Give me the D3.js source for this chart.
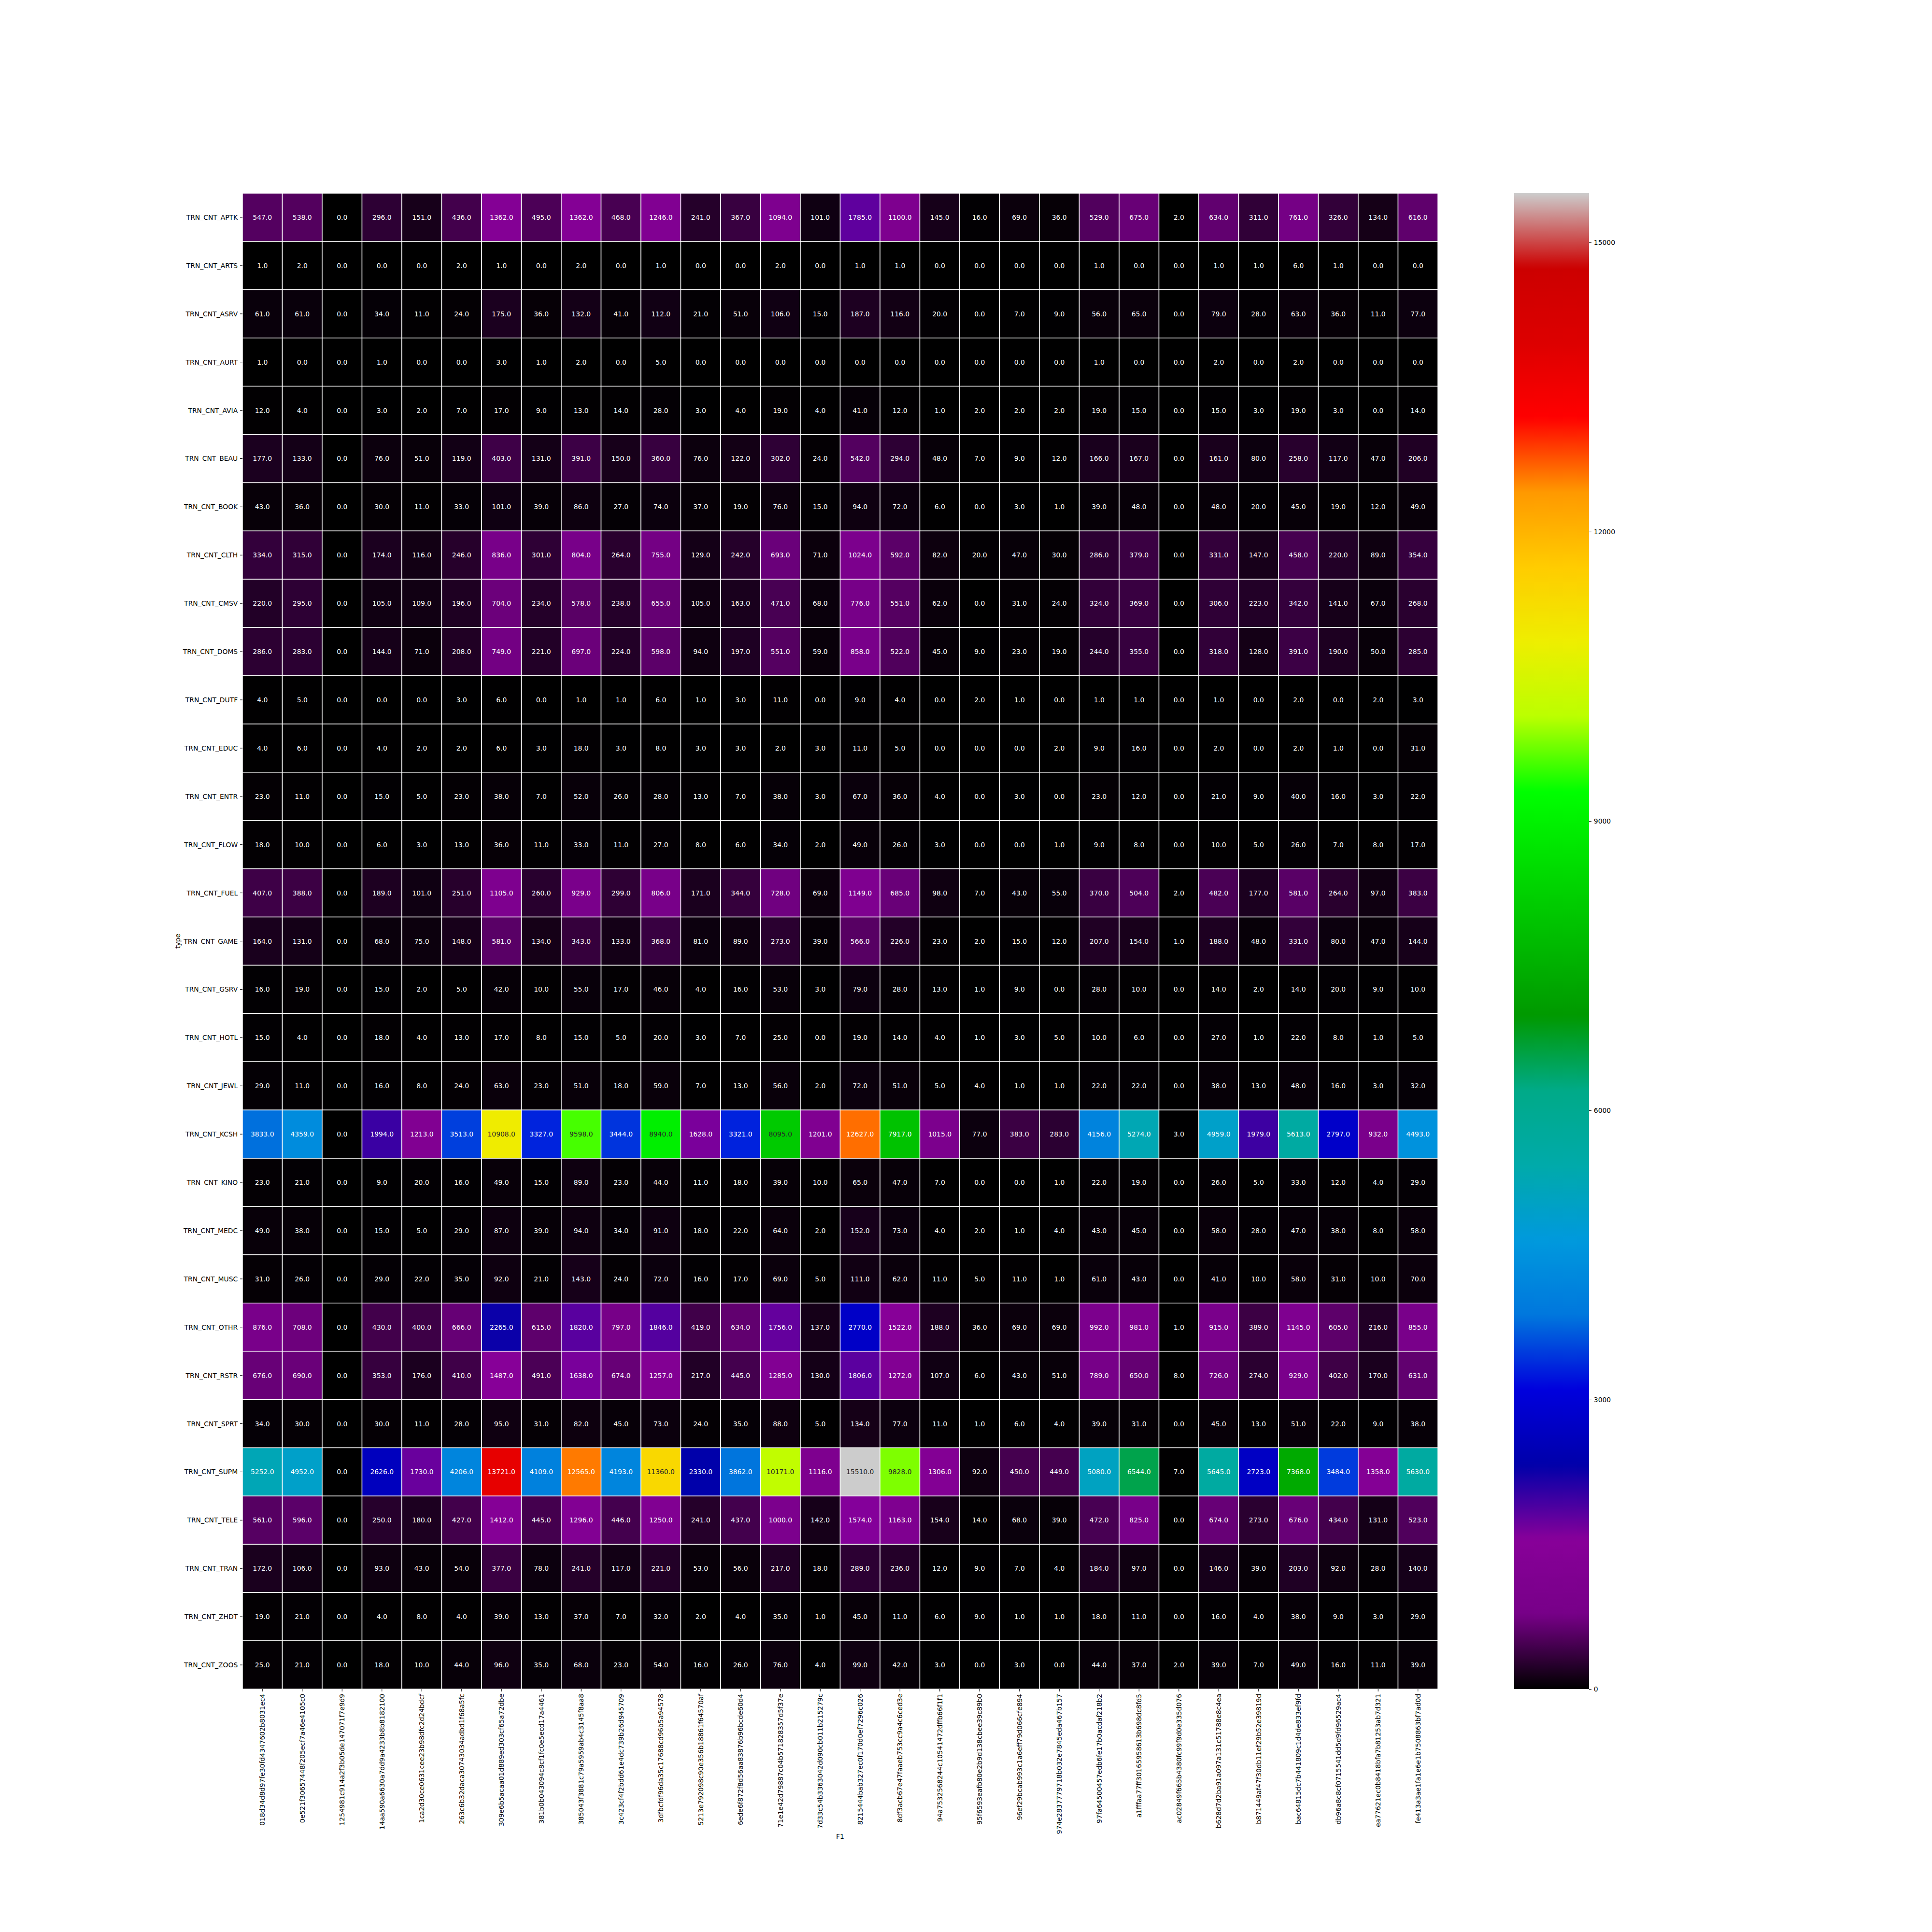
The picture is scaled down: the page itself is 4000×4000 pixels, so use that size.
<!DOCTYPE html>
<html>
<head>
<meta charset="utf-8">
<script src="https://cdn.jsdelivr.net/npm/d3@7"></script>
<style>
  body { margin: 0; background: white; }
  text { font-family: "DejaVu Sans", sans-serif; }
  .annot { opacity: 0.999; }
</style>
</head>
<body>
<svg id="plot"></svg>
<script>
// row categories (y axis)
const types = ["TRN_CNT_APTK","TRN_CNT_ARTS","TRN_CNT_ASRV","TRN_CNT_AURT","TRN_CNT_AVIA","TRN_CNT_BEAU",
  "TRN_CNT_BOOK","TRN_CNT_CLTH","TRN_CNT_CMSV","TRN_CNT_DOMS","TRN_CNT_DUTF","TRN_CNT_EDUC","TRN_CNT_ENTR",
  "TRN_CNT_FLOW","TRN_CNT_FUEL","TRN_CNT_GAME","TRN_CNT_GSRV","TRN_CNT_HOTL","TRN_CNT_JEWL","TRN_CNT_KCSH",
  "TRN_CNT_KINO","TRN_CNT_MEDC","TRN_CNT_MUSC","TRN_CNT_OTHR","TRN_CNT_RSTR","TRN_CNT_SPRT","TRN_CNT_SUPM",
  "TRN_CNT_TELE","TRN_CNT_TRAN","TRN_CNT_ZHDT","TRN_CNT_ZOOS"];

// column categories (x axis)
const f1Ids = ["018d34d8d97fe30fd4347602b8031ec4","0e521f30657448f205ecf7a46e4105c0","1254981c914a2f3b05de147071f7e9d9",
  "14aa590a6630a7dd9a4233b8b8182100","1ca2d30ce0631cee23b98dfc2d24bdcf","263c6b32daca30743034adbd1f68a5fc",
  "309e6b5acaa01d889ed303cf65a72dbe","381b0b043094c8cf1fc0e5ecd17a4461","385043f3881c79a5959ab4c3145f8aa8",
  "3c423cf4f2bdd61e4dc739b26d945709","3dfbcfdf96da35c17688cd96b5a94578","5213e792098c90e356b18861f64570af",
  "6ede6f872f8d56aa83876b96bcde60d4","71e1e42d79887c04b571828357d5f37e","7d33c54b3363042d090cb011b215279c",
  "8215444bab327ec0f170d0ef7296c026","8df3acb67e47faaeb753cc9a4c6ced3e","94a7532568244c10541472dffb66f1f1",
  "95f6593eafb80e2b9d138cbee39c89b0","96ef29bcab993c1a6eff79d066cfe894","974e2837779718b032e7845eda467b157",
  "97fa64500457edb6fe17b0acdaf218b2","a1fffaa77ff30165958613b698dc8fd5","ac02849f665b4380fc99f9d0e335d076",
  "b628d7d2ba91a097a131c51788e8c4ea","b871449af47f30db11ef29b52e39819d","bac64815dc7b441809c1d4de833ef9fd",
  "db96a8c8cf0715541dd5d9fd96529ac4","ea77621ec0b8418bfa7b81253ab7d321","fe413a3ae1fa1e6e1b7508863bf7ad0d"];

// counts, one row per type, one value per F1 column
const counts = [
  [547,538,0,296,151,436,1362,495,1362,468,1246,241,367,1094,101, 1785,1100,145,16,69,36,529,675,2,634,311,761,326,134,616],
  [1,2,0,0,0,2,1,0,2,0,1,0,0,2,0, 1,1,0,0,0,0,1,0,0,1,1,6,1,0,0],
  [61,61,0,34,11,24,175,36,132,41,112,21,51,106,15, 187,116,20,0,7,9,56,65,0,79,28,63,36,11,77],
  [1,0,0,1,0,0,3,1,2,0,5,0,0,0,0, 0,0,0,0,0,0,1,0,0,2,0,2,0,0,0],
  [12,4,0,3,2,7,17,9,13,14,28,3,4,19,4, 41,12,1,2,2,2,19,15,0,15,3,19,3,0,14],
  [177,133,0,76,51,119,403,131,391,150,360,76,122,302,24, 542,294,48,7,9,12,166,167,0,161,80,258,117,47,206],
  [43,36,0,30,11,33,101,39,86,27,74,37,19,76,15, 94,72,6,0,3,1,39,48,0,48,20,45,19,12,49],
  [334,315,0,174,116,246,836,301,804,264,755,129,242,693,71, 1024,592,82,20,47,30,286,379,0,331,147,458,220,89,354],
  [220,295,0,105,109,196,704,234,578,238,655,105,163,471,68, 776,551,62,0,31,24,324,369,0,306,223,342,141,67,268],
  [286,283,0,144,71,208,749,221,697,224,598,94,197,551,59, 858,522,45,9,23,19,244,355,0,318,128,391,190,50,285],
  [4,5,0,0,0,3,6,0,1,1,6,1,3,11,0, 9,4,0,2,1,0,1,1,0,1,0,2,0,2,3],
  [4,6,0,4,2,2,6,3,18,3,8,3,3,2,3, 11,5,0,0,0,2,9,16,0,2,0,2,1,0,31],
  [23,11,0,15,5,23,38,7,52,26,28,13,7,38,3, 67,36,4,0,3,0,23,12,0,21,9,40,16,3,22],
  [18,10,0,6,3,13,36,11,33,11,27,8,6,34,2, 49,26,3,0,0,1,9,8,0,10,5,26,7,8,17],
  [407,388,0,189,101,251,1105,260,929,299,806,171,344,728,69, 1149,685,98,7,43,55,370,504,2,482,177,581,264,97,383],
  [164,131,0,68,75,148,581,134,343,133,368,81,89,273,39, 566,226,23,2,15,12,207,154,1,188,48,331,80,47,144],
  [16,19,0,15,2,5,42,10,55,17,46,4,16,53,3, 79,28,13,1,9,0,28,10,0,14,2,14,20,9,10],
  [15,4,0,18,4,13,17,8,15,5,20,3,7,25,0, 19,14,4,1,3,5,10,6,0,27,1,22,8,1,5],
  [29,11,0,16,8,24,63,23,51,18,59,7,13,56,2, 72,51,5,4,1,1,22,22,0,38,13,48,16,3,32],
  [3833,4359,0,1994,1213,3513,10908,3327,9598,3444,8940,1628,3321,8095,1201, 12627,7917,1015,77,383,283,4156,5274,3,4959,1979,5613,2797,932,4493],
  [23,21,0,9,20,16,49,15,89,23,44,11,18,39,10, 65,47,7,0,0,1,22,19,0,26,5,33,12,4,29],
  [49,38,0,15,5,29,87,39,94,34,91,18,22,64,2, 152,73,4,2,1,4,43,45,0,58,28,47,38,8,58],
  [31,26,0,29,22,35,92,21,143,24,72,16,17,69,5, 111,62,11,5,11,1,61,43,0,41,10,58,31,10,70],
  [876,708,0,430,400,666,2265,615,1820,797,1846,419,634,1756,137, 2770,1522,188,36,69,69,992,981,1,915,389,1145,605,216,855],
  [676,690,0,353,176,410,1487,491,1638,674,1257,217,445,1285,130, 1806,1272,107,6,43,51,789,650,8,726,274,929,402,170,631],
  [34,30,0,30,11,28,95,31,82,45,73,24,35,88,5, 134,77,11,1,6,4,39,31,0,45,13,51,22,9,38],
  [5252,4952,0,2626,1730,4206,13721,4109,12565,4193,11360,2330,3862,10171,1116, 15510,9828,1306,92,450,449,5080,6544,7,5645,2723,7368,3484,1358,5630],
  [561,596,0,250,180,427,1412,445,1296,446,1250,241,437,1000,142, 1574,1163,154,14,68,39,472,825,0,674,273,676,434,131,523],
  [172,106,0,93,43,54,377,78,241,117,221,53,56,217,18, 289,236,12,9,7,4,184,97,0,146,39,203,92,28,140],
  [19,21,0,4,8,4,39,13,37,7,32,2,4,35,1, 45,11,6,9,1,1,18,11,0,16,4,38,9,3,29],
  [25,21,0,18,10,44,96,35,68,23,54,16,26,76,4, 99,42,3,0,3,0,44,37,2,39,7,49,16,11,39]
];

const colorbarTicks = [0, 3000, 6000, 9000, 12000, 15000];

// nipy_spectral colormap stops (0, 0.05, ... 1)
const nipyR = [0,.4667,.5333,0,0,0,0,0,0,0,0,0,0,.7333,.9333,1,1,1,.8667,.8,.8];
const nipyG = [0,0,0,0,0,.4667,.6,.6667,.6667,.6,.7333,.8667,1,1,.9333,.8,.6,0,0,0,.8];
const nipyB = [0,.5333,.6,.6667,.8667,.8667,.8667,.6667,.5333,0,0,0,0,0,0,0,0,0,0,0,.8];

let width = 4000, height = 4000;
let margin = { top: 400, bottom: 503, left: 502, right: 1023 };

let svg = d3.select('#plot')
  .attr('width', width)
  .attr('height', height)
  .style('background', 'white');

let vmax = d3.max(counts.flat());
let stops = d3.range(21).map(i => i / 20);
let stopColors = stops.map((s, i) => d3.rgb(nipyR[i] * 255, nipyG[i] * 255, nipyB[i] * 255));
let cmap = d3.scaleLinear().domain(stops).range(stopColors).interpolate(d3.interpolateRgb).clamp(true);
let color = v => cmap(v / vmax);

let xScale = d3.scaleBand().domain(f1Ids).range([margin.left, width - margin.right]);
let yScale = d3.scaleBand().domain(types).range([margin.top, height - margin.bottom]);

// seaborn-like text colour choice
function textColor(c) {
  let rgb = d3.rgb(c);
  let lin = [rgb.r, rgb.g, rgb.b].map(v => {
    v = v / 255;
    return v <= 0.03928 ? v / 12.92 : Math.pow((v + 0.055) / 1.055, 2.4);
  });
  let lum = 0.2126 * lin[0] + 0.7152 * lin[1] + 0.0722 * lin[2];
  return lum > 0.408 ? '#262626' : 'white';
}

let cells = [];
counts.forEach((row, i) => row.forEach((v, j) => cells.push({ type: types[i], f1: f1Ids[j], v: v })));

svg.append('g').selectAll('rect')
  .data(cells)
  .enter()
  .append('rect')
  .attr('x', d => xScale(d.f1))
  .attr('y', d => yScale(d.type))
  .attr('width', xScale.bandwidth())
  .attr('height', yScale.bandwidth())
  .attr('fill', d => color(d.v))
  .attr('stroke', 'white')
  .attr('stroke-width', 1.5);

svg.append('g').attr('class', 'annot').selectAll('text')
  .data(cells)
  .enter()
  .append('text')
  .attr('x', d => xScale(d.f1) + xScale.bandwidth() / 2)
  .attr('y', d => yScale(d.type) + yScale.bandwidth() / 2)
  .attr('text-anchor', 'middle')
  .attr('dominant-baseline', 'central')
  .style('font-size', '13.9px')
  .attr('fill', d => textColor(color(d.v)))
  .text(d => d.v.toFixed(1));

// axes
let xAxis = svg.append('g')
  .attr('transform', `translate(0, ${height - margin.bottom})`)
  .call(d3.axisBottom(xScale).tickSize(4.9).tickPadding(4.9));
xAxis.select('.domain').remove();
xAxis.selectAll('line').attr('stroke', 'black').attr('stroke-width', 1.1);
xAxis.selectAll('text')
  .style('font-size', '13.9px')
  .attr('fill', 'black')
  .attr('text-anchor', 'end')
  .attr('dy', null)
  .attr('dominant-baseline', 'central')
  .attr('transform', 'rotate(-90)')
  .attr('x', -9.8)
  .attr('y', 0);

let yAxis = svg.append('g')
  .attr('transform', `translate(${margin.left}, 0)`)
  .call(d3.axisLeft(yScale).tickSize(4.9).tickPadding(4.9));
yAxis.select('.domain').remove();
yAxis.selectAll('line').attr('stroke', 'black').attr('stroke-width', 1.1);
yAxis.selectAll('text')
  .style('font-size', '13.9px')
  .attr('fill', 'black')
  .attr('dy', null)
  .attr('dominant-baseline', 'central');

// axis titles
svg.append('text')
  .attr('x', (margin.left + width - margin.right) / 2)
  .attr('y', 3807)
  .attr('text-anchor', 'middle')
  .style('font-size', '13.9px')
  .text('F1');

svg.append('text')
  .attr('transform', `translate(373, ${(margin.top + height - margin.bottom) / 2}) rotate(-90)`)
  .attr('text-anchor', 'middle')
  .style('font-size', '13.9px')
  .text('type');

// colorbar
let cbX = 3135, cbW = 155;
let cbScale = d3.scaleLinear().domain([0, vmax]).range([height - margin.bottom, margin.top]);

let grad = svg.append('defs').append('linearGradient')
  .attr('id', 'cbgrad')
  .attr('x1', 0).attr('y1', 1).attr('x2', 0).attr('y2', 0);
grad.selectAll('stop')
  .data(d3.range(256).map(i => i / 255))
  .enter()
  .append('stop')
  .attr('offset', d => d)
  .attr('stop-color', d => cmap(d));

svg.append('rect')
  .attr('x', cbX)
  .attr('y', margin.top)
  .attr('width', cbW)
  .attr('height', height - margin.bottom - margin.top)
  .attr('fill', 'url(#cbgrad)');

let cbAxis = svg.append('g')
  .attr('transform', `translate(${cbX + cbW}, 0)`)
  .call(d3.axisRight(cbScale).tickValues(colorbarTicks).tickFormat(d3.format('d')).tickSize(4.9).tickPadding(4.9));
cbAxis.select('.domain').remove();
cbAxis.selectAll('line').attr('stroke', 'black').attr('stroke-width', 1.1);
cbAxis.selectAll('text').style('font-size', '13.9px').attr('fill', 'black');
</script>
</body>
</html>
